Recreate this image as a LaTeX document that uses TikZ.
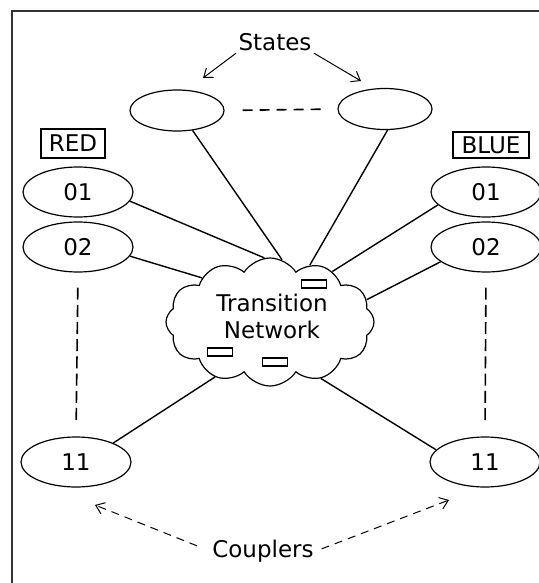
\documentclass[tikz,border=0pt]{standalone}
\usepackage{fontspec}
\setmainfont{DejaVu Sans}
\usetikzlibrary{shapes.geometric,shapes.symbols,arrows.meta}

\begin{document}
\begin{tikzpicture}[x=0.5pt,y=-0.5pt,
    every node/.style={font=\fontsize{11.5}{13.5}\selectfont},
    statenode/.style={ellipse,draw,line width=0.6pt,minimum width=47pt,minimum height=20.5pt,inner sep=0pt},
    agent/.style={ellipse,draw,line width=0.6pt,minimum width=55pt,minimum height=25pt,inner sep=0pt},
    team/.style={rectangle,draw,line width=0.6pt,inner sep=0pt},
    slot/.style={rectangle,draw,line width=0.6pt,minimum width=12.5pt,minimum height=4pt,inner sep=0pt},
    link/.style={line width=0.7pt},
    gap/.style={line width=0.8pt,dash pattern=on 5pt off 3.5pt},
    pointer/.style={line width=0.5pt,-{Straight Barb[length=4pt,width=6pt]}}]
  \useasboundingbox (0,0) rectangle (539,583);
  % frame (cut off at right and bottom)
  \draw[line width=1pt,black!80] (12,583) -- (12,11) -- (539,11);

  % states
  \node[inner sep=1pt] (states) at (275,42) {States};
  \node[statenode] (s1) at (177,110.5) {};
  \node[statenode] (s2) at (385,109) {};

  % teams
  \node[team,minimum width=32pt,minimum height=14.5pt] (red) at (73,143.5) {RED};
  \node[team,minimum width=38pt,minimum height=13pt] (blue) at (491,145) {BLUE};
  \node[agent] (r1) at (78,192) {01};
  \node[agent] (r2) at (78,247) {02};
  \node[agent] (r11) at (76,462) {11};
  \node[agent] (b1) at (486,192) {01};
  \node[agent] (b2) at (486,247) {02};
  \node[agent] (b11) at (485,462) {11};

  % network
  \node[cloud,draw,line width=0.6pt,cloud puffs=12,cloud puff arc=115,aspect=1.7,
    shape border rotate=8,minimum width=104pt,minimum height=64pt,inner sep=0pt] (net) at (270,322) {};
  \node[inner sep=0pt,align=center] (netlabel) at (272,316.5) {Transition\\Network};
  \node[slot] (q1) at (314,284) {};
  \node[slot] (q2) at (220,352) {};
  \node[slot] (q3) at (275,362) {};

  \node[inner sep=1pt] (couplers) at (263,551) {Couplers};

  \draw[link] (s1.308) -- (net.79);
  \draw[link] (s2.277) -- (net.55);
  \draw[link] (r1.350) -- (net.95);
  \draw[link] (r2.350) -- (net.147);
  \draw[link] (b1.195) -- (net.39);
  \draw[link] (b2.198) -- (net.13);
  \draw[link] (r11.27) -- (net.225);
  \draw[link] (b11.166) -- (net.312);

  \draw[gap,shorten <=9pt,shorten >=7pt] (s1.east) -- (s2.west);
  \draw[gap,dash pattern=on 6pt off 2.6pt,shorten <=7.5pt,shorten >=7.5pt] (r2.south) -- (r11.north);
  \draw[gap,dash pattern=on 6pt off 2.6pt,shorten <=7.5pt,shorten >=7.5pt] (b2.south) -- (b11.north);

  \coordinate (sL) at (203,78);
  \coordinate (sR) at (361,81);
  \coordinate (cL) at (95,505);
  \coordinate (cR) at (449,500);
  \draw[pointer] (states.south west) -- (sL);
  \draw[pointer] (states.south east) -- (sR);
  \draw[pointer,dash pattern=on 4pt off 3pt,shorten <=7pt] (couplers.west) -- (cL);
  \draw[pointer,dash pattern=on 4pt off 3pt,shorten <=3pt] (couplers.east) -- (cR);
\end{tikzpicture}
\end{document}
